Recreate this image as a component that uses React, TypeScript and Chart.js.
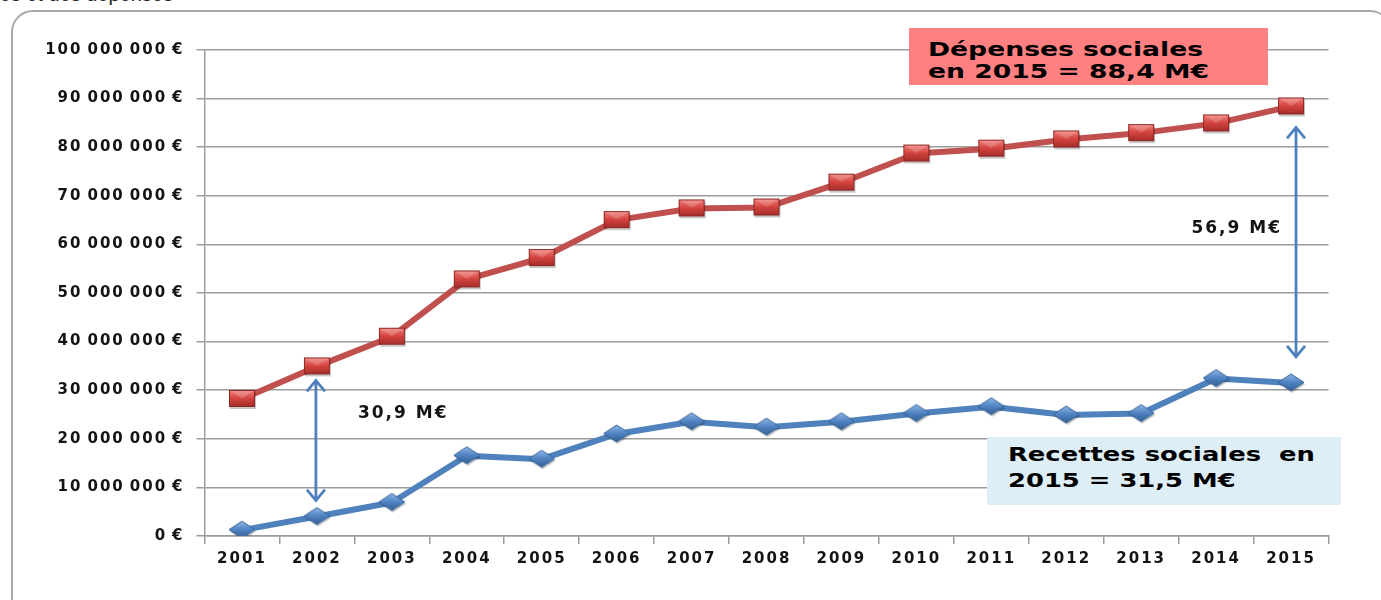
import { useEffect, useRef } from 'react';
import { Chart, registerables } from 'chart.js';

Chart.register(...registerables);

// Years on the category axis
const YEARS = ['2001', '2002', '2003', '2004', '2005', '2006', '2007', '2008', '2009', '2010', '2011', '2012', '2013', '2014', '2015'];

// Social spending and social revenue, in millions of euros
const DEPENSES = [28.2, 34.9, 41.0, 52.8, 57.2, 65.0, 67.4, 67.6, 72.7, 78.7, 79.7, 81.6, 82.9, 84.9, 88.4];
const RECETTES = [1.2, 4.0, 6.9, 16.5, 15.8, 21.0, 23.5, 22.4, 23.5, 25.2, 26.6, 24.9, 25.2, 32.4, 31.5];

// Value axis range (millions of euros)
const Y_MIN = 0;
const Y_MAX = 100;
const Y_STEP = 10;

// Years where the spending/revenue gap is annotated with a double arrow
const GAP_YEARS = ['2002', '2015'];

const GRID = '#9c9c9c';
const TEXT = '#141414';
const RED = '#c0504d';
const BLUE = '#4f81bd';

// thousands separated by thin spaces, e.g. "100 000 000 €"
const fmtEuro = (m: number) =>
  String(Math.round(m * 1e6)).replace(/\B(?=(\d{3})+(?!\d))/g, '\u2009') + '\u2009€';
const fmtM = (m: number) => m.toFixed(1).replace('.', ',') + ' M€';

// Placement of each gap arrow and its label
const GAP_STYLE: Record<string, { dx: number; topInset: number; bottomInset: number; labelDx: number; labelDy: number; align: CanvasTextAlign }> = {
  '2002': { dx: -1, topInset: 14, bottomInset: 16, labelDx: 42, labelDy: -27, align: 'left' },
  '2015': { dx: 5, topInset: 21, bottomInset: 26, labelDx: -14, labelDy: -14, align: 'right' },
};

function makeSquareMarker() {
  const c = document.createElement('canvas');
  c.width = 30;
  c.height = 22;
  const g = c.getContext('2d')!;
  g.fillStyle = 'rgba(0,0,0,0.22)';
  g.fillRect(3, 4, 26, 17);
  const grad = g.createLinearGradient(0, 2, 0, 19);
  grad.addColorStop(0, '#f2837f');
  grad.addColorStop(0.5, '#d4443f');
  grad.addColorStop(1, '#a22c29');
  g.fillStyle = grad;
  g.fillRect(2, 2, 26, 17);
  g.fillStyle = 'rgba(255,255,255,0.18)';
  g.beginPath();
  g.moveTo(2, 2);
  g.lineTo(28, 2);
  g.lineTo(15, 10.5);
  g.closePath();
  g.fill();
  g.strokeStyle = '#8e2623';
  g.lineWidth = 1;
  g.strokeRect(2.5, 2.5, 25, 16);
  return c;
}

function makeDiamondMarker() {
  const c = document.createElement('canvas');
  c.width = 30;
  c.height = 22;
  const g = c.getContext('2d')!;
  const path = (ox: number, oy: number) => {
    g.beginPath();
    g.moveTo(15 + ox, 2 + oy);
    g.lineTo(28 + ox, 10.5 + oy);
    g.lineTo(15 + ox, 19 + oy);
    g.lineTo(2 + ox, 10.5 + oy);
    g.closePath();
  };
  path(1, 2);
  g.fillStyle = 'rgba(0,0,0,0.22)';
  g.fill();
  const grad = g.createLinearGradient(0, 2, 0, 19);
  grad.addColorStop(0, '#8fb6e6');
  grad.addColorStop(0.5, '#4f83c2');
  grad.addColorStop(1, '#355f93');
  path(0, 0);
  g.fillStyle = grad;
  g.fill();
  g.strokeStyle = '#3a6699';
  g.lineWidth = 1;
  g.stroke();
  return c;
}

const textSpacing = {
  id: 'textSpacing',
  beforeDraw(chart: Chart) {
    (chart.ctx as any).letterSpacing = '2px';
  },
};

const gapArrows = {
  id: 'gapArrows',
  afterDatasetsDraw(chart: Chart) {
    const { ctx } = chart;
    const x = chart.scales.x;
    const y = chart.scales.y;
    GAP_YEARS.forEach((year) => {
      const i = YEARS.indexOf(year);
      const s = GAP_STYLE[year];
      const cx = x.getPixelForValue(i) + s.dx;
      const yTop = y.getPixelForValue(DEPENSES[i]) + s.topInset;
      const yBot = y.getPixelForValue(RECETTES[i]) - s.bottomInset;
      ctx.save();
      ctx.strokeStyle = BLUE;
      ctx.lineWidth = 2.8;
      ctx.lineJoin = 'miter';
      ctx.beginPath();
      ctx.moveTo(cx, yTop);
      ctx.lineTo(cx, yBot);
      ctx.moveTo(cx - 9, yTop + 11);
      ctx.lineTo(cx, yTop);
      ctx.lineTo(cx + 9, yTop + 11);
      ctx.moveTo(cx - 9, yBot - 11);
      ctx.lineTo(cx, yBot);
      ctx.lineTo(cx + 9, yBot - 11);
      ctx.stroke();
      ctx.fillStyle = TEXT;
      ctx.font = 'bold 17px "DejaVu Sans"';
      ctx.textAlign = s.align;
      ctx.textBaseline = 'middle';
      ctx.fillText(fmtM(DEPENSES[i] - RECETTES[i]), cx + s.labelDx, (yTop + yBot) / 2 + s.labelDy);
      ctx.restore();
    });
  },
};

export default function App() {
  const canvasRef = useRef<HTMLCanvasElement | null>(null);

  useEffect(() => {
    const canvas = canvasRef.current;
    if (!canvas) return;
    const tickFont = { family: '"DejaVu Sans"', size: 15, weight: 'bold' as const };
    const chart = new Chart(canvas, {
      type: 'line',
      data: {
        labels: YEARS,
        datasets: [
          {
            label: 'Dépenses sociales',
            data: DEPENSES,
            borderColor: RED,
            backgroundColor: RED,
            borderWidth: 6,
            borderJoinStyle: 'round',
            borderCapStyle: 'round',
            tension: 0,
            pointStyle: makeSquareMarker(),
            pointRadius: 9,
          },
          {
            label: 'Recettes sociales',
            data: RECETTES,
            borderColor: BLUE,
            backgroundColor: BLUE,
            borderWidth: 6,
            borderJoinStyle: 'round',
            borderCapStyle: 'round',
            tension: 0,
            pointStyle: makeDiamondMarker(),
            pointRadius: 9,
          },
        ],
      },
      options: {
        animation: false,
        responsive: false,
        devicePixelRatio: 1,
        layout: { padding: { left: 10, right: 52.5, top: 50, bottom: 0 } },
        plugins: {
          legend: { display: false },
          tooltip: { enabled: false },
        },
        scales: {
          x: {
            offset: true,
            grid: {
              offset: true,
              drawOnChartArea: false,
              drawTicks: true,
              tickLength: 8,
              color: GRID,
              lineWidth: 1.5,
            },
            border: { color: GRID, width: 1.5 },
            ticks: {
              font: tickFont,
              color: TEXT,
              padding: 6,
              maxRotation: 0,
              autoSkip: false,
            },
            afterFit: (s: any) => {
              s.height = 64;
            },
          },
          y: {
            min: Y_MIN,
            max: Y_MAX,
            grid: { color: GRID, lineWidth: 1.5, tickLength: 8 },
            border: { color: GRID, width: 1.5 },
            ticks: {
              stepSize: Y_STEP,
              font: tickFont,
              color: TEXT,
              padding: 12,
              callback: (v: any) => fmtEuro(Number(v)),
            },
            afterFit: (s: any) => {
              s.width = 194.5;
            },
          },
        },
      },
      plugins: [textSpacing, gapArrows],
    });
    return () => chart.destroy();
  }, []);

  const last = YEARS.length - 1;
  const boxText: React.CSSProperties = {
    position: 'absolute',
    fontFamily: '"DejaVu Sans", sans-serif',
    fontWeight: 'bold',
    fontSize: 20,
    color: '#000',
    whiteSpace: 'pre',
    transformOrigin: 'left top',
  };

  return (
    <div
      style={{
        position: 'fixed',
        left: 0,
        top: 0,
        width: 1381,
        height: 600,
        overflow: 'hidden',
        background: '#fff',
      }}
    >
      <div
        style={{
          position: 'absolute',
          right: 1381 - 173,
          top: -16,
          fontFamily: '"Liberation Sans", sans-serif',
          fontSize: 20,
          lineHeight: '20px',
          color: '#222',
          whiteSpace: 'nowrap',
        }}
      >
        Évolution des recettes et des dépenses
      </div>
      <div
        style={{
          position: 'absolute',
          left: 11,
          top: 10,
          width: 1381,
          height: 640,
          boxSizing: 'border-box',
          border: '2px solid #a8a8a8',
          borderRadius: 22,
        }}
      />
      <canvas ref={canvasRef} width={1381} height={600} style={{ position: 'absolute', left: 0, top: 0 }} />
      <div
        style={{
          position: 'absolute',
          left: 909,
          top: 28,
          width: 359,
          height: 57,
          background: '#ff8080',
        }}
      >
        <div style={{ ...boxText, left: 19, top: 9.5, lineHeight: '22.6px', transform: 'scaleX(1.33)' }}>
          {'Dépenses sociales\nen ' + YEARS[last] + ' = ' + fmtM(DEPENSES[last])}
        </div>
      </div>
      <div
        style={{
          position: 'absolute',
          left: 987,
          top: 437,
          width: 354,
          height: 68,
          background: '#deeef6',
        }}
      >
        <div style={{ ...boxText, left: 21, top: 5, lineHeight: '25.7px', transform: 'scaleX(1.29)' }}>
          {'Recettes sociales  en\n' + YEARS[last] + ' = ' + fmtM(RECETTES[last])}
        </div>
      </div>
    </div>
  );
}
